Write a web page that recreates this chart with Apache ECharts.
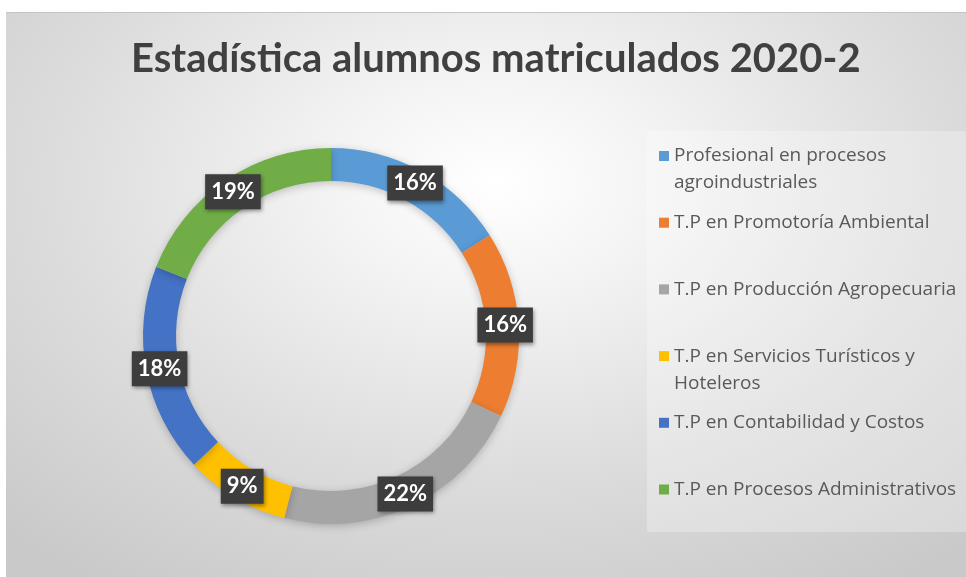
<!DOCTYPE html>
<html>
<head>
<meta charset="utf-8">
<script src="https://cdn.jsdelivr.net/npm/echarts@6/dist/echarts.min.js"></script>
<style>
  html, body { margin: 0; background: #fff; }
  #chart {
    position: absolute; left: 6px; top: 12px; width: 960px; height: 565px;
    border-top: 1px solid #c4c4c4;
    background: radial-gradient(ellipse 75% 85% at 51% 30%, #ffffff 0%, #f4f4f4 22%, #dcdcdc 62%, #c9c9c9 100%);
  }
</style>
</head>
<body>
<div id="chart"></div>
<script>
const categories = [
  "Profesional en procesos agroindustriales",
  "T.P en Promotoría Ambiental",
  "T.P en Producción Agropecuaria",
  "T.P en Servicios Turísticos y Hoteleros",
  "T.P en Contabilidad y Costos",
  "T.P en Procesos Administrativos"
];
const legendLabels = [
  "Profesional en procesos\nagroindustriales",
  "T.P en Promotoría Ambiental",
  "T.P en Producción Agropecuaria",
  "T.P en Servicios Turísticos y\nHoteleros",
  "T.P en Contabilidad y Costos",
  "T.P en Procesos Administrativos"
];
const shares = [16, 16, 22, 9, 18, 19];
const colors = ["#5b9bd5", "#ed7d31", "#a5a5a5", "#ffc000", "#4472c4", "#70ad47"];

// legend text is centred on its marker, so a wrapped label gets a blank line
// on top to keep its first line level with the marker
const lh = 27;
const boxH = 3 * lh;
const legendText = legendLabels.map(t => t.includes("\n") ? " \n" + t : t);

const chart = echarts.init(document.getElementById("chart"), null, { renderer: "canvas" });
chart.setOption({
  animation: false,
  color: colors,
  title: {
    text: "Estadística alumnos matriculados 2020-2",
    left: 125, top: 26, padding: 0,
    textStyle: { fontFamily: "Lato", fontSize: 40, fontWeight: "bold", color: "#404040" }
  },
  graphic: [{
    type: "rect", left: 641, top: 118, z: -1,
    shape: { width: 325, height: 401 },
    style: { fill: "rgba(255,255,255,0.28)" }
  }],
  legend: {
    orient: "vertical", left: 653, top: 143 - boxH / 2, padding: 0,
    itemWidth: 10, itemHeight: 10, itemGap: 66.7 - boxH,
    icon: "rect",
    formatter: name => legendText[categories.indexOf(name)],
    textStyle: { fontFamily: "Open Sans", fontSize: 19, color: "#595959", lineHeight: lh, backgroundColor: "rgba(0,0,0,0)" },
    data: categories.map((name, i) => {
      const pad = (boxH - lh * legendText[i].split("\n").length) / 2;
      return { name, textStyle: { padding: [pad, 0, pad, 0] } };
    })
  },
  series: [{
    type: "pie",
    center: [325, 323],
    radius: [155, 188],
    startAngle: 90,
    clockwise: true,
    avoidLabelOverlap: false,
    itemStyle: { shadowBlur: 8, shadowColor: "rgba(0,0,0,0.22)", shadowOffsetY: 2 },
    label: {
      position: "inside",
      formatter: p => p.value + "%",
      fontFamily: "Lato", fontSize: 22, fontWeight: "bold", color: "#fff",
      backgroundColor: "#3d3d3d", padding: [7, 6, 6, 6],
      shadowBlur: 4, shadowColor: "rgba(0,0,0,0.4)", shadowOffsetX: 1, shadowOffsetY: 2
    },
    labelLine: { show: false },
    data: categories.map((name, i) => ({ name, value: shares[i] }))
  }]
});
</script>
</body>
</html>
